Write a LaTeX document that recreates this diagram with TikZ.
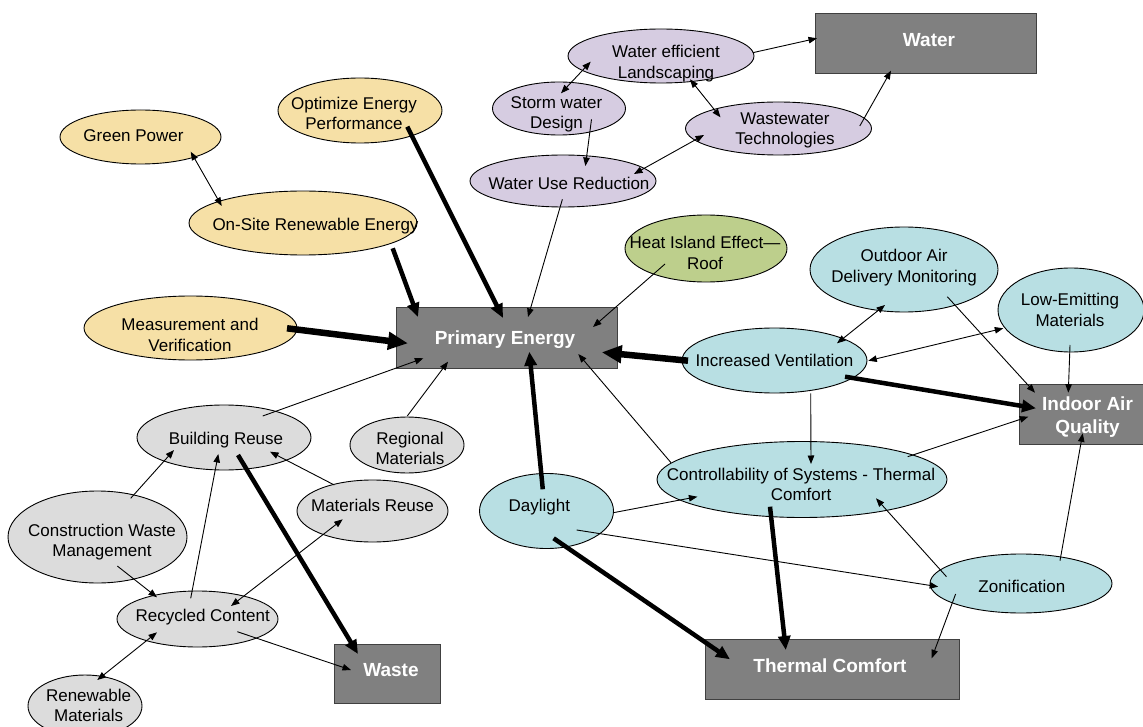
\documentclass[tikz,border=0pt]{standalone}
\usepackage{fontspec}
\setmainfont{Liberation Sans}
\usetikzlibrary{arrows.meta,shapes.geometric}

\definecolor{energyfill}{HTML}{F6E0A6}
\definecolor{waterfill}{HTML}{D6CCE1}
\definecolor{roofill}{HTML}{BDCF8C}
\definecolor{airfill}{HTML}{B8DFE3}
\definecolor{matfill}{HTML}{DCDCDC}
\definecolor{hubfill}{HTML}{808080}
\definecolor{hubline}{HTML}{404040}

\tikzset{
  bub/.style={ellipse, draw=black, line width=0.9pt, inner sep=0pt},
  ebub/.style={bub, fill=energyfill},
  wbub/.style={bub, fill=waterfill},
  gbub/.style={bub, fill=roofill},
  abub/.style={bub, fill=airfill},
  mbub/.style={bub, fill=matfill},
  hub/.style={rectangle, draw=hubline, fill=hubfill, line width=1pt, inner sep=0pt},
  lbl/.style={inner sep=0pt, align=center, font=\fontsize{17}{20.5}\selectfont},
  hublbl/.style={inner sep=0pt, align=center, text=white, font=\fontsize{19}{23.3}\selectfont\bfseries},
  link/.style={line width=0.9pt, -{Triangle[length=8.5pt,width=6.5pt]}},
  duplex/.style={line width=0.9pt, {Triangle[length=8.5pt,width=6.5pt]}-{Triangle[length=8.5pt,width=6.5pt]}},
  heavy/.style={line width=4.5pt, -{Triangle[length=14pt,width=12pt]}},
  heavier/.style={line width=6.5pt, -{Triangle[length=20pt,width=17pt]}},
}

\begin{document}
\begin{tikzpicture}[x=1pt,y=-1pt]
\useasboundingbox (0,0) rectangle (1143,727);

% ---- energy credits
\node[ebub, minimum width=161pt, minimum height=54pt] (gp) at (140.5,137) {};
\node[lbl, anchor=base] (gp-t) at (133.5,141.7) {Green Power};
\node[ebub, minimum width=164pt, minimum height=65pt] (oep) at (360,110.5) {};
\node[lbl] (oep-t) at (354,113.5) {Optimize Energy\\Performance};
\node[ebub, minimum width=228pt, minimum height=64pt] (os) at (303,223) {};
\node[lbl, anchor=base] (os-t) at (315.5,230.7) {On-Site Renewable Energy};
\node[ebub, minimum width=213pt, minimum height=64pt] (mv) at (190.5,328) {};
\node[lbl] (mv-t) at (190,334.7) {Measurement and\\Verification};

% ---- water credits
\node[wbub, minimum width=186pt, minimum height=54pt] (wel) at (661,56) {};
\node[lbl] (wel-t) at (666,63.4) {Water efficient\\Landscaping};
\node[wbub, minimum width=133pt, minimum height=53pt] (swd) at (559,108.5) {};
\node[lbl] (swd-t) at (556.5,114.4) {Storm water\\Design};
\node[wbub, minimum width=186pt, minimum height=53pt] (wwt) at (778.5,128.5) {};
\node[lbl] (wwt-t) at (785,130.6) {Wastewater\\Technologies};
\node[wbub, minimum width=186pt, minimum height=52pt] (wur) at (563,181) {};
\node[lbl, anchor=base] (wur-t) at (569,190) {Water Use Reduction};

% ---- roof
\node[gbub, minimum width=162pt, minimum height=67pt] (hie) at (706,248.5) {};
\node[lbl] (hie-t) at (705,252.7) {Heat Island Effect---\\Roof};

% ---- air and comfort credits
\node[abub, minimum width=188pt, minimum height=85pt] (oa) at (904,269.5) {};
\node[lbl] (oa-t) at (904,267.6) {Outdoor Air\\Delivery Monitoring};
\node[abub, minimum width=146pt, minimum height=84pt] (le) at (1071,310) {};
\node[lbl] (le-t) at (1070,309.9) {Low-Emitting\\Materials};
\node[abub, minimum width=185pt, minimum height=65pt] (iv) at (774.5,360.5) {};
\node[lbl, anchor=base] (iv-t) at (774.5,366.7) {Increased Ventilation};
\node[abub, minimum width=290pt, minimum height=76pt] (ctrl) at (802,479.5) {};
\node[lbl] (ctrl-t) at (801,484.6) {Controllability of Systems - Thermal\\Comfort};
\node[abub, minimum width=134pt, minimum height=75pt] (day) at (546.5,511) {};
\node[lbl, anchor=base] (day-t) at (539.4,511.7) {Daylight};
\node[abub, minimum width=182pt, minimum height=59pt] (zon) at (1021,583.5) {};
\node[lbl, anchor=base] (zon-t) at (1021.9,592.7) {Zonification};

% ---- material credits
\node[mbub, minimum width=174pt, minimum height=65pt] (br) at (224,437.5) {};
\node[lbl, anchor=base] (br-t) at (226,444.3) {Building Reuse};
\node[mbub, minimum width=114pt, minimum height=56pt] (rm) at (407,445) {};
\node[lbl] (rm-t) at (410,448.5) {Regional\\Materials};
\node[mbub, minimum width=151pt, minimum height=62pt] (mr) at (372.5,511) {};
\node[lbl, anchor=base] (mr-t) at (372.5,511.7) {Materials Reuse};
\node[mbub, minimum width=179pt, minimum height=92pt] (cwm) at (97.5,537) {};
\node[lbl] (cwm-t) at (102,542) {Construction Waste\\Management};
\node[mbub, minimum width=161pt, minimum height=56pt] (rc) at (197.5,619) {};
\node[lbl, anchor=base] (rc-t) at (202.7,621.7) {Recycled Content};
\node[mbub, minimum width=114pt, minimum height=62pt] (ren) at (85,706) {};
\node[lbl] (ren-t) at (88.6,705.6) {Renewable\\Materials};

% ---- category boxes
\node[hub, minimum width=221pt, minimum height=60pt] (pe) at (506.5,338) {};
\node[hublbl, anchor=base] (pe-t) at (505,344) {Primary Energy};
\node[hub, minimum width=221pt, minimum height=60pt] (water) at (925.5,43.3) {};
\node[hublbl, anchor=base] (water-t) at (929,46.7) {Water};
\node[hub, minimum width=126pt, minimum height=60pt] (iaq) at (1082,414) {};
\node[hublbl] (iaq-t) at (1087.5,417) {Indoor Air\\Quality};
\node[hub, minimum width=254pt, minimum height=60pt] (tc) at (832.4,669.3) {};
\node[hublbl, anchor=base] (tc-t) at (830,672.7) {Thermal Comfort};
\node[hub, minimum width=106pt, minimum height=59pt] (waste) at (387,673.5) {};
\node[hublbl, anchor=base] (waste-t) at (391,676.7) {Waste};

% ---- links into Primary Energy
\draw[duplex] ([shift={(50.2,14.7)}]gp.center) -- ([shift={(-81.3,-17)}]os.center);
\draw[heavy] ([shift={(47.3,16.2)}]oep.center) -- ([shift={(-3.5,-20)}]pe.center);
\draw[heavy] ([shift={(89.7,25.3)}]os.center) -- ([shift={(-88.5,-21)}]pe.center);
\draw[heavier] ([shift={(96.5,0.3)}]mv.center) -- ([shift={(-98.5,5.3)}]pe.center);
\draw[link] ([shift={(-0.6,18.3)}]wur.center) -- ([shift={(21.5,-21)}]pe.center);
\draw[link] ([shift={(-41,15.5)}]hie.center) -- ([shift={(86.5,-11)}]pe.center);
\draw[heavier] ([shift={(-86.5,0.2)}]iv.center) -- ([shift={(95.2,14.3)}]pe.center);
\draw[heavy] ([shift={(-3.7,-21.7)}]day.center) -- ([shift={(22.8,13.7)}]pe.center);
\draw[link] ([shift={(-131,-16.8)}]ctrl.center) -- ([shift={(71.8,16)}]pe.center);
\draw[link] ([shift={(38.7,-21.5)}]br.center) -- ([shift={(-83.2,20.3)}]pe.center);
\draw[link] ([shift={(0.3,-29)}]rm.center) -- ([shift={(-58.5,23.7)}]pe.center);

% ---- water links
\draw[link] ([shift={(91.7,-3.3)}]wel.center) -- ([shift={(-108.5,-5)}]water.center);
\draw[link] ([shift={(81.3,-2.5)}]wwt.center) -- ([shift={(-34.5,27.4)}]water.center);
\draw[duplex] ([shift={(-70.3,5.7)}]wel.center) -- ([shift={(2,-15.2)}]swd.center);
\draw[duplex] ([shift={(29,23.3)}]wel.center) -- ([shift={(-58,-11.2)}]wwt.center);
\draw[link] ([shift={(32.5,10.8)}]swd.center) -- ([shift={(22.4,-15)}]wur.center);
\draw[duplex] ([shift={(-74.5,6.5)}]wwt.center) -- ([shift={(71,-7)}]wur.center);

% ---- air quality links
\draw[duplex] ([shift={(-19,35.5)}]oa.center) -- ([shift={(62.5,-17.2)}]iv.center);
\draw[duplex] ([shift={(-67.7,18.3)}]le.center) -- ([shift={(93.8,0.2)}]iv.center);
\draw[link] ([shift={(43.3,27.2)}]oa.center) -- ([shift={(-47,-21.3)}]iaq.center);
\draw[link] ([shift={(-1,35)}]le.center) -- ([shift={(-13.7,-21.3)}]iaq.center);
\draw[heavy] ([shift={(70.5,16.2)}]iv.center) -- ([shift={(-46,-5.7)}]iaq.center);
\draw[link] ([shift={(36.2,32.8)}]iv.center) -- ([shift={(9,-15.5)}]ctrl.center);
\draw[link] ([shift={(105.7,-22.8)}]ctrl.center) -- ([shift={(-53.7,2.7)}]iaq.center);
\draw[link] ([shift={(39,-22.8)}]zon.center) -- ([shift={(0.7,19.3)}]iaq.center);

% ---- thermal comfort links
\draw[link] ([shift={(-74.5,-6.8)}]zon.center) -- ([shift={(74,18.8)}]ctrl.center);
\draw[link] ([shift={(-65.4,10.5)}]zon.center) -- ([shift={(99.3,-11)}]tc.center);
\draw[link] ([shift={(66.8,1.7)}]day.center) -- ([shift={(-104.6,17.2)}]ctrl.center);
\draw[link] ([shift={(30.2,19)}]day.center) -- ([shift={(-82.8,3.2)}]zon.center);
\draw[heavy] ([shift={(7.1,27.3)}]day.center) -- ([shift={(-102.4,-10)}]tc.center);
\draw[heavy] ([shift={(-32,27.2)}]ctrl.center) -- ([shift={(-46.6,-19.3)}]tc.center);

% ---- material links
\draw[heavy] ([shift={(14,17.5)}]br.center) -- ([shift={(-29,-19.5)}]waste.center);
\draw[link] ([shift={(33.2,-38.7)}]cwm.center) -- ([shift={(-50,12.5)}]br.center);
\draw[link] ([shift={(-6.8,-20.7)}]rc.center) -- ([shift={(-5.7,16.5)}]br.center);
\draw[link] ([shift={(-38.2,-26)}]mr.center) -- ([shift={(46,14.2)}]br.center);
\draw[duplex] ([shift={(-29.8,8.3)}]mr.center) -- ([shift={(33.5,-13)}]rc.center);
\draw[link] ([shift={(19.8,29)}]cwm.center) -- ([shift={(-40.5,-21.7)}]rc.center);
\draw[link] ([shift={(39.8,12.7)}]rc.center) -- ([shift={(-36,-3.5)}]waste.center);
\draw[duplex] ([shift={(12.3,-26)}]ren.center) -- ([shift={(-40.5,13.3)}]rc.center);
\end{tikzpicture}
\end{document}
